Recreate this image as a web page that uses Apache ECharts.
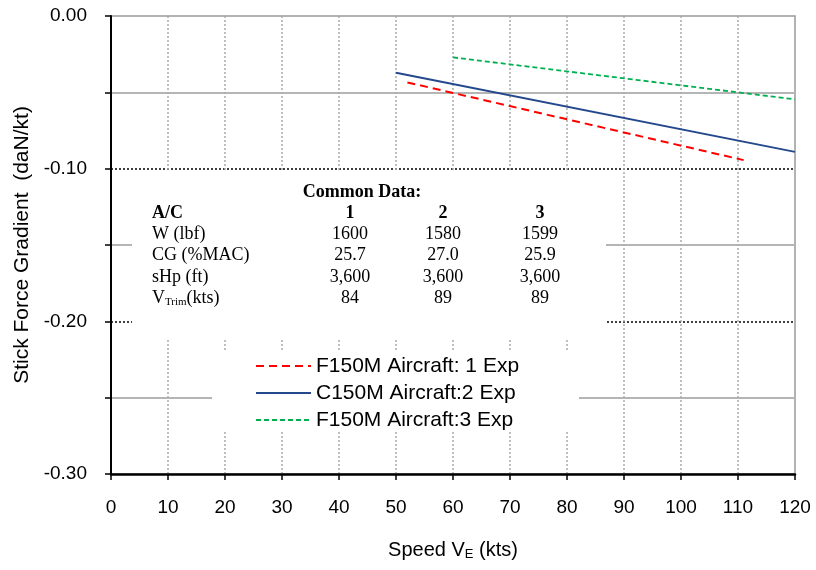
<!DOCTYPE html>
<html>
<head>
<meta charset="utf-8">
<script src="https://cdn.jsdelivr.net/npm/echarts@6/dist/echarts.min.js"></script>
<style>html,body{margin:0;padding:0;background:#fff;}#c{width:816px;height:570px;}</style>
</head>
<body>
<div id="c"></div>
<script>
// Series data (Speed kts, Stick force gradient daN/kt)
var s1Name = 'F150M Aircraft: 1 Exp';
var s1X = [52, 111];
var s1Y = [-0.0435, -0.0944];
var s2Name = 'C150M Aircraft:2 Exp';
var s2X = [50, 120];
var s2Y = [-0.0372, -0.0890];
var s3Name = 'F150M Aircraft:3 Exp';
var s3X = [60, 120];
var s3Y = [-0.0271, -0.0546];

// Common data table
var tableTitle = 'Common Data:';
var tableHeader = ['A/C', '1', '2', '3'];
var tableLabels = ['W (lbf)', 'CG (%MAC)', 'sHp (ft)', 'V{sub|Trim}(kts)'];
var tableCol1 = ['1600', '25.7', '3,600', '84'];
var tableCol2 = ['1580', '27.0', '3,600', '89'];
var tableCol3 = ['1599', '25.9', '3,600', '89'];

function pairs(xs, ys) { return xs.map(function (x, i) { return [x, ys[i]]; }); }

var chart = echarts.init(document.getElementById('c'));
var serif = '"Liberation Serif", "Times New Roman", serif';
var sans = '"Liberation Sans", Arial, sans-serif';

var graphics = [
  { type: 'rect', z: 1, shape: { x: 132, y: 170, width: 474, height: 168 }, style: { fill: '#fff' }, silent: true },
  { type: 'rect', z: 1, shape: { x: 212, y: 350, width: 367, height: 80 }, style: { fill: '#fff' }, silent: true },
  { type: 'text', z: 5, x: 362, y: 192, style: { text: tableTitle, font: 'bold 18px ' + serif, fill: '#000', align: 'center', verticalAlign: 'middle' } }
];
var colX = [152, 350, 443, 540];
var rowY = [213, 234, 255, 277, 298];
tableHeader.forEach(function (t, i) {
  graphics.push({ type: 'text', z: 5, x: colX[i], y: rowY[0], style: { text: t, font: 'bold 18px ' + serif, fill: '#000', align: i === 0 ? 'left' : 'center', verticalAlign: 'middle' } });
});
tableLabels.forEach(function (t, r) {
  graphics.push({ type: 'text', z: 5, x: colX[0], y: rowY[r + 1], style: { text: t, font: '18px ' + serif, fill: '#000', align: 'left', verticalAlign: 'middle', rich: { sub: { fontSize: 11, fontFamily: serif, verticalAlign: 'bottom', padding: [8, 0, 0, 0] } } } });
  [tableCol1, tableCol2, tableCol3].forEach(function (col, c) {
    graphics.push({ type: 'text', z: 5, x: colX[c + 1], y: rowY[r + 1], style: { text: col[r], font: '18px ' + serif, fill: '#000', align: 'center', verticalAlign: 'middle' } });
  });
});

var option = {
  backgroundColor: '#fff',
  animation: false,
  grid: { left: 111, right: 21, top: 16, bottom: 96, show: true, borderColor: '#999', borderWidth: 1.5, backgroundColor: 'transparent' },
  legend: {
    orient: 'vertical', left: 212, top: 355, padding: [0, 0, 0, 43],
    itemWidth: 55, itemHeight: 14, itemGap: 5,
    itemStyle: { opacity: 0 },
    textStyle: { fontFamily: sans, fontSize: 21, color: '#000', lineHeight: 22 },
    data: [s1Name, s2Name, s3Name], z: 6
  },
  xAxis: {
    type: 'value', min: 0, max: 120, interval: 10,
    axisLine: { onZero: false, lineStyle: { color: '#000', width: 2.5 } },
    axisTick: { length: 6, lineStyle: { color: '#000', width: 1.5 } },
    axisLabel: { color: '#000', fontFamily: sans, fontSize: 19, margin: 24 },
    splitLine: { show: true, showMinLine: false, showMaxLine: false, lineStyle: { color: '#aaa', width: 1.5, type: [2, 2] } },
    name: 'Speed V{sub|E} (kts)', nameLocation: 'middle', nameGap: 66,
    nameTextStyle: { color: '#000', fontFamily: sans, fontSize: 20, rich: { sub: { fontSize: 13, fontFamily: sans, verticalAlign: 'bottom', padding: [8, 0, 0, 0] } } }
  },
  yAxis: {
    type: 'value', min: -0.3, max: 0, interval: 0.1,
    axisLine: { onZero: false, lineStyle: { color: '#000', width: 2 } },
    axisTick: { length: 6, lineStyle: { color: '#000', width: 1.5 } },
    minorTick: { show: true, splitNumber: 2, length: 6, lineStyle: { color: '#000', width: 1.5 } },
    axisLabel: { color: '#000', fontFamily: sans, fontSize: 19, margin: 24, formatter: function (v) { return v.toFixed(2); } },
    splitLine: { show: true, showMinLine: false, showMaxLine: false, lineStyle: { color: '#000', width: 1.5, type: [2, 2] } },
    minorSplitLine: { show: true, lineStyle: { color: '#b5b5b5', width: 2 } },
    name: 'Stick Force Gradient  (daN/kt)', nameLocation: 'middle', nameGap: 78,
    nameTextStyle: { color: '#000', fontFamily: sans, fontSize: 21 }
  },
  graphic: graphics,
  series: [
    { name: s1Name, type: 'line', data: pairs(s1X, s1Y), symbol: 'none', z: 3, lineStyle: { color: '#ff0000', width: 2, type: [8, 5] }, itemStyle: { color: '#ff0000' } },
    { name: s2Name, type: 'line', data: pairs(s2X, s2Y), symbol: 'none', z: 3, lineStyle: { color: '#24488c', width: 2 }, itemStyle: { color: '#24488c' } },
    { name: s3Name, type: 'line', data: pairs(s3X, s3Y), symbol: 'none', z: 3, lineStyle: { color: '#00b050', width: 1.8, type: [5, 3] }, itemStyle: { color: '#00b050' } }
  ]
};
chart.setOption(option);
</script>
</body>
</html>
